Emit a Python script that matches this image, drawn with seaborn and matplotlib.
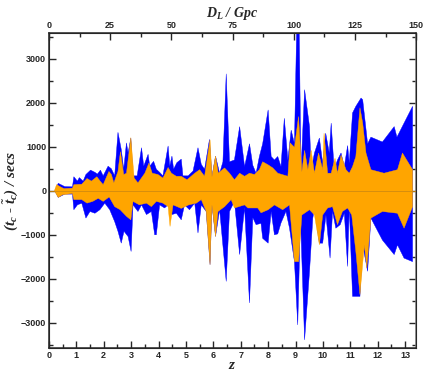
import numpy as np
import seaborn as sns
import matplotlib.pyplot as plt
from matplotlib.ticker import MultipleLocator

# blue band (wide errors)
blue_up_z = [0.22, 0.34, 0.58, 0.86, 0.91, 1.04, 1.11, 1.25, 1.35, 1.52, 1.68, 1.77, 1.88, 1.98, 2.16, 2.28, 2.40,
             2.52, 2.64, 2.73, 2.83, 2.89, 2.99, 3.07, 3.22, 3.38, 3.46, 3.62, 3.68, 3.82, 3.92, 4.04, 4.16, 4.35,
             4.41, 4.49, 4.55, 4.67, 4.83, 4.89, 5.08, 5.26, 5.44, 5.56, 5.68, 5.86, 5.95, 6.08, 6.23, 6.35, 6.47,
             6.59, 6.77, 6.96, 7.14, 7.32, 7.44, 7.56, 7.68, 7.80, 8.00, 8.11, 8.23, 8.35, 8.47, 8.59, 8.72, 8.84,
             8.96, 9.06, 9.12, 9.20, 9.33, 9.51, 9.57, 9.69, 9.87, 9.99, 10.10, 10.23, 10.30, 10.41, 10.53, 10.66,
             10.78, 10.90, 10.96, 11.08, 11.20, 11.39, 11.45, 11.63, 11.75, 12.17, 12.60, 12.70, 13.27]
blue_up = [0, 170, 95, 90, 320, 220, 300, 220, 370, 470, 420, 380, 470, 340, 560, 500, 340,
           1330, 940, 490, 1090, 860, 1200, 340, 340, 980, 560, 830, 560, 670, 490, 420, 340, 1020,
           560, 790, 490, 640, 720, 340, 340, 450, 980, 600, 490, 1170, 330, 790, 400, 660, 2660,
           660, 700, 1460, 550, 1070, 580, 400, 780, 1070, 1840, 780, 700, 780, 550, 1650, 700, 1380,
           1070, 4300, 4300, 480, 2300, 1460, 480, 860, 1200, 630, 1310, 860, 1540, 480, 700, 860,
           550, 1030, 630, 1770, 1920, 2110, 2070, 1070, 1220, 1110, 1460, 1220, 1920]
blue_lo_z = [0.22, 0.34, 0.58, 0.86, 0.91, 1.04, 1.20, 1.35, 1.50, 1.68, 1.86, 2.04, 2.22, 2.40, 2.52, 2.64, 2.74,
             2.89, 3.00, 3.07, 3.25, 3.38, 3.56, 3.74, 3.86, 3.92, 4.04, 4.22, 4.35, 4.49, 4.65, 4.83, 4.95, 5.13,
             5.32, 5.44, 5.56, 5.74, 5.88, 5.95, 6.08, 6.23, 6.47, 6.59, 6.77, 6.96, 7.14, 7.32, 7.44, 7.56, 7.74,
             7.80, 8.00, 8.11, 8.23, 8.35, 8.47, 8.65, 8.78, 8.96, 9.08, 9.18, 9.33, 9.51, 9.63, 9.69, 9.87, 9.99,
             10.11, 10.26, 10.35, 10.47, 10.63, 10.78, 10.90, 10.96, 11.08, 11.35, 11.45, 11.63, 11.75, 12.17,
             12.60, 12.72, 12.96, 13.27]
blue_lo = [0, -150, -75, -75, -430, -320, -280, -620, -470, -510, -430, -280, -430, -700, -920, -1190, -920,
           -1040, -1380, -320, -470, -320, -540, -470, -1000, -1000, -320, -390, -320, -540, -510, -660, -320, -430,
           -280, -960, -320, -470, -1680, -320, -1040, -430, -2060, -470, -240, -1450, -380, -2550, -610, -770, -740,
           -1080, -1190, -470, -1000, -980, -730, -470, -850, -1610, -3050, -620, -3390, -1830, -620, -400, -1190, -1190,
           -550, -1530, -470, -850, -770, -510, -1720, -360, -2400, -2400, -1230, -1830, -620, -1120,
           -1450, -1230, -1530, -1610]

# orange band (narrow errors)
orange_up_z = [0.20, 0.28, 0.45, 0.55, 0.86, 0.91, 1.20, 1.39, 1.55, 1.75, 1.87, 1.98, 2.19, 2.28, 2.37, 2.52,
               2.61, 2.73, 2.83, 2.99, 3.11, 3.25, 3.50, 3.65, 3.77, 3.98, 4.16, 4.35, 4.47, 4.65, 4.83, 5.04,
               5.32, 5.50, 5.68, 5.88, 5.95, 6.08, 6.18, 6.41, 6.59, 6.77, 6.96, 7.14, 7.32, 7.50, 7.68, 7.80,
               8.00, 8.17, 8.35, 8.72, 8.80, 8.96, 9.11, 9.16, 9.23, 9.33, 9.45, 9.57, 9.69, 9.84, 9.99, 10.04,
               10.17, 10.30, 10.44, 10.53, 10.66, 10.84, 10.96, 11.08, 11.20, 11.35, 11.45, 11.57, 11.75, 12.23,
               12.72, 12.90, 13.27]
orange_up = [0, 140, 80, 50, 60, 140, 150, 280, 220, 320, 220, 140, 440, 370, 180, 440,
             890, 370, 400, 1210, 290, 180, 400, 630, 400, 370, 290, 530, 400, 330, 330, 250,
             400, 480, 330, 1160, 320, 790, 400, 520, 400, 250, 400, 330, 400, 370, 480, 660,
             590, 520, 400, 330, 1090, 990, 1690, 1140, 430, 920, 480, 920, 400, 860, 480, 1310,
             400, 400, 740, 400, 810, 480, 400, 550, 780, 1890, 1540, 860, 480, 400,
             480, 860, 480]
orange_lo_z = [0.20, 0.34, 0.50, 0.86, 0.91, 1.20, 1.39, 1.60, 1.80, 1.98, 2.20, 2.40, 2.60, 2.83, 2.99, 3.07,
               3.30, 3.56, 3.74, 3.92, 4.16, 4.35, 4.42, 4.53, 4.83, 5.10, 5.38, 5.56, 5.74, 5.88, 5.95, 6.08,
               6.17, 6.41, 6.65, 6.77, 7.14, 7.26, 7.62, 7.74, 8.00, 8.23, 8.53, 8.78, 8.96, 9.11, 9.23, 9.51,
               9.69, 9.87, 9.99, 10.17, 10.35, 10.53, 10.71, 10.90, 11.05, 11.20, 11.35, 11.51, 11.60, 11.75,
               12.17, 12.72, 12.96, 13.27]
orange_lo = [0, -150, -90, -60, -200, -200, -280, -240, -170, -240, -140, -360, -430, -580, -660, -240,
             -320, -280, -360, -240, -280, -360, -810, -320, -400, -320, -280, -200, -470, -1680, -320, -1040,
             -470, -360, -200, -390, -320, -390, -390, -500, -430, -320, -430, -320, -1610, -1610, -550, -430,
             -550, -1230, -550, -390, -360, -770, -470, -390, -550, -1380, -2360, -1230, -1760, -620,
             -470, -510, -850, -360]

x_ticks = list(range(0, 14))
dl_ticks = [0, 25, 50, 75, 100, 125, 150]
y_ticks = [-3000, -2000, -1000, 0, 1000, 2000, 3000]

sns.set_style("ticks")
plt.rcParams['font.family'] = ['Liberation Sans', 'DejaVu Sans']
plt.rcParams['mathtext.fontset'] = 'custom'
plt.rcParams['mathtext.it'] = 'Liberation Serif:italic:bold'
plt.rcParams['mathtext.rm'] = 'Liberation Serif:italic:bold'

fig = plt.figure(figsize=(4.29, 3.74), dpi=100)
ax = fig.add_axes([0.114, 0.070, 0.856, 0.842])


def band(z_up, v_up, z_lo, v_lo):
    xs = np.concatenate([z_up, z_lo[::-1]])
    ys = np.concatenate([v_up, v_lo[::-1]])
    return xs, ys


bx, by = band(blue_up_z, blue_up, blue_lo_z, blue_lo)
ox, oy = band(orange_up_z, orange_up, orange_lo_z, orange_lo)
ax.fill(bx, by, color='#0000ff', lw=0.3, ec='#0000ff', zorder=2)
ax.fill(ox, oy, color='#ffa500', lw=0.3, ec='#ffa500', zorder=3)
ax.axhline(0, color='#d08a10', lw=0.6, zorder=4)

ax.set_xlim(0, 13.4)
ax.set_ylim(-3570, 3590)
ax.set_xticks(x_ticks)
ax.set_yticks(y_ticks)
ax.xaxis.set_minor_locator(MultipleLocator(0.5))
ax.yaxis.set_minor_locator(MultipleLocator(500))
ax.tick_params(which='both', direction='in', right=True, labelsize=6.5, width=1, pad=2)
ax.tick_params(which='major', length=5)
ax.tick_params(which='minor', length=3)
for lab in ax.get_xticklabels() + ax.get_yticklabels():
    lab.set_fontweight('bold')
for s in ax.spines.values():
    s.set_linewidth(1.1)
ax.spines['right'].set_color('#777777')

ax2 = ax.twiny()
ax2.set_xlim(0, 150)
ax2.set_xticks(dl_ticks)
ax2.xaxis.set_minor_locator(MultipleLocator(12.5))
ax2.tick_params(which='both', direction='in', labelsize=6.5, width=1, pad=2)
ax2.tick_params(which='major', length=5)
ax2.tick_params(which='minor', length=3)
for lab in ax2.get_xticklabels():
    lab.set_fontweight('bold')

ax.set_xlabel(r'$z$', fontsize=11, labelpad=-1)
ax2.set_xlabel(r'$D_L$ / Gpc', fontsize=10, labelpad=3,
               family='Liberation Serif', style='italic', weight='bold')
ax.set_ylabel(r'$(t_c$ - $\tilde{t}_c)$ / secs', fontsize=11, labelpad=0,
              family='Liberation Serif', style='italic', weight='bold')

fig.savefig('out.png', dpi=100)
